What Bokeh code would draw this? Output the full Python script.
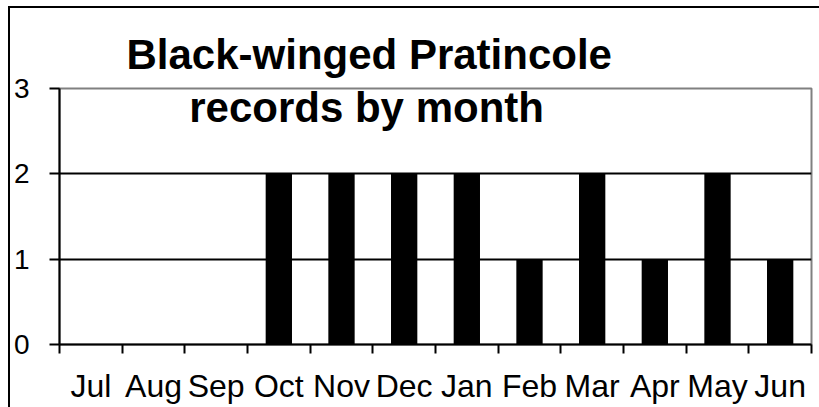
from bokeh.plotting import figure
from bokeh.models import Range1d, FixedTicker, Label, ColumnDataSource
from bokeh.embed import file_html
from bokeh.resources import INLINE

months = ["Jul", "Aug", "Sep", "Oct", "Nov", "Dec", "Jan", "Feb", "Mar", "Apr", "May", "Jun"]
records = [0, 0, 0, 2, 2, 2, 2, 1, 2, 1, 2, 1]
y_ticks = [0, 1, 2, 3]
title_lines = ["Black-winged Pratincole", "records by month"]

FONT = "Liberation Sans"
n = len(months)
xs = [i + 0.5 for i in range(n)]
src = ColumnDataSource(dict(x=xs, top=records, month=months))

p = figure(frame_width=752, frame_height=256,
           output_backend="svg", toolbar_location=None,
           x_range=Range1d(0, n), y_range=Range1d(0, max(y_ticks)),
           min_border_left=48, min_border_right=9, min_border_top=80, min_border_bottom=63,
           background_fill_color="white", border_fill_color="white",
           stylesheets=[":host { margin-left: 8px; margin-top: 6px; "
                        "border-left: 2px solid black; border-top: 2px solid black; }"])

p.vbar(x="x", top="top", width=0.42, bottom=0, source=src,
       fill_color="black", line_color="black", line_width=0)

# x axis: labels at centres, ticks at category boundaries
xa = p.xaxis[0]
xa.ticker = FixedTicker(ticks=xs, minor_ticks=list(range(n + 1)))
xa.major_label_overrides = {x: m for x, m in zip(xs, months)}
xa.major_tick_out = 0
xa.major_tick_in = 0
xa.minor_tick_out = 9
xa.minor_tick_in = 0
xa.minor_tick_line_color = "black"
xa.minor_tick_line_width = 2
xa.axis_line_color = "black"
xa.axis_line_width = 2
xa.major_label_standoff = 14
xa.major_label_text_font = FONT
xa.major_label_text_font_size = "32px"
xa.major_label_text_color = "black"

ya = p.yaxis[0]
ya.ticker = FixedTicker(ticks=y_ticks, minor_ticks=[])
ya.major_tick_out = 10
ya.major_tick_in = 0
ya.major_tick_line_color = "black"
ya.major_tick_line_width = 2
ya.axis_line_color = "black"
ya.axis_line_width = 2
ya.major_label_standoff = 20
ya.major_label_text_font = FONT
ya.major_label_text_font_size = "28px"
ya.major_label_text_color = "black"

p.xgrid.visible = False
p.ygrid.ticker = FixedTicker(ticks=y_ticks)
p.ygrid.grid_line_color = "black"
p.ygrid.grid_line_width = 2

p.outline_line_color = "#808080"
p.outline_line_width = 2

# first title line in the title panel, second line inside the frame
p.title.text = title_lines[0]
p.title.align = "left"
p.title.offset = 67
p.title.standoff = 21
p.title.text_font = FONT
p.title.text_font_style = "bold"
p.title.text_font_size = "42px"
p.title.text_color = "black"

p.add_layout(Label(x=4.90, y=2.78, text=title_lines[1], text_align="center",
                   text_baseline="alphabetic", text_font=FONT,
                   text_font_style="bold", text_font_size="42px",
                   text_color="black"))

open("out.html", "w").write(file_html(p, INLINE))
